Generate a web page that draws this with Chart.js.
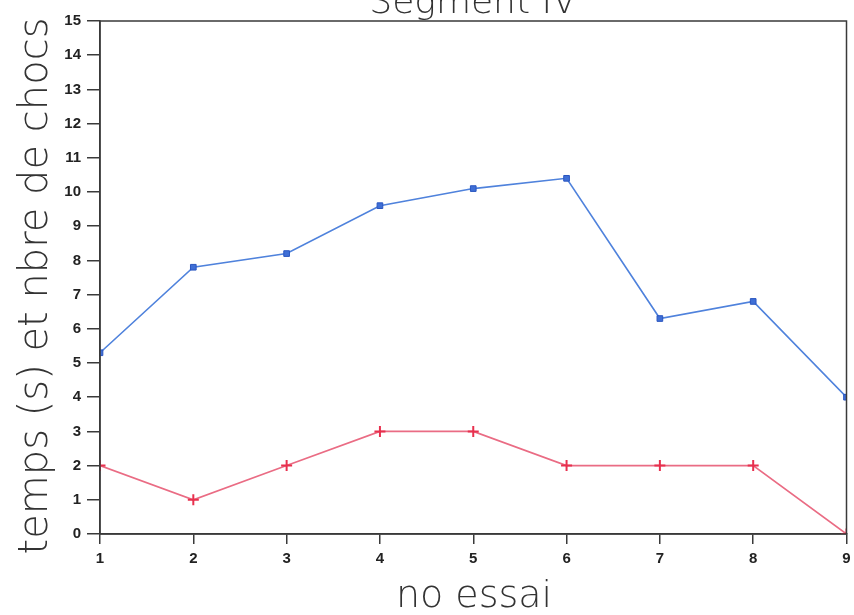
<!DOCTYPE html>
<html>
<head>
<meta charset="utf-8">
<script src="https://cdn.jsdelivr.net/npm/chart.js@4.4.0/dist/chart.umd.min.js"></script>
<style>
  html, body { margin: 0; padding: 0; background: #fff; }
  #wrap { width: 854px; height: 615px; position: relative; }
</style>
</head>
<body>
<div id="wrap"><canvas id="chart" width="854" height="615"></canvas></div>
<script>
// données
const essais = [1, 2, 3, 4, 5, 6, 7, 8, 9];
const temps = [5.3, 7.8, 8.2, 9.6, 10.1, 10.4, 6.3, 6.8, 4.0];
const chocs = [2, 1, 2, 3, 3, 2, 2, 2, 0];
const yTicks = [0, 1, 2, 3, 4, 5, 6, 7, 8, 9, 10, 11, 12, 13, 14, 15];

const titre = "Segment IV";
const titreX = "no essai";
const titreY = "temps (s) et nbre de chocs";

const axisColor = "#3a3a3a";
const thinFont = '"DejaVu Sans", sans-serif';
const tickFont = { family: '"Liberation Sans", sans-serif', size: 15, weight: "bold" };

// cadre + titres
const decor = {
  id: "decor",
  afterDraw(chart) {
    const ctx = chart.ctx;
    const a = chart.chartArea;
    ctx.save();
    ctx.strokeStyle = axisColor;
    ctx.lineWidth = 1.5;
    ctx.strokeRect(a.left, a.top, a.right - a.left, a.bottom - a.top);

    ctx.fillStyle = "#333";
    ctx.font = "200 36px " + thinFont;
    ctx.textAlign = "center";
    ctx.textBaseline = "alphabetic";
    ctx.fillText(titre, 473, 13);

    ctx.font = "200 38px " + thinFont;
    ctx.fillText(titreX, 474, 607);

    ctx.translate(47, 286);
    ctx.rotate(-Math.PI / 2);
    ctx.font = "200 40px " + thinFont;
    ctx.fillText(titreY, 0, 0);
    ctx.restore();
  },
};

new Chart(document.getElementById("chart"), {
  type: "line",
  data: {
    datasets: [
      {
        label: "temps",
        data: essais.map((x, i) => ({ x: x, y: temps[i] })),
        borderColor: "#4f82dc",
        borderWidth: 1.6,
        pointStyle: "rect",
        pointRadius: 4,
        pointBackgroundColor: "#3f6fd6",
        pointBorderColor: "#2a56c0",
        pointBorderWidth: 1,
        tension: 0,
      },
      {
        label: "chocs",
        data: essais.map((x, i) => ({ x: x, y: chocs[i] })),
        borderColor: "#ea6c84",
        borderWidth: 1.6,
        pointStyle: "cross",
        pointRadius: 5.5,
        pointBorderColor: "#e8304e",
        pointBorderWidth: 2,
        tension: 0,
      },
    ],
  },
  options: {
    responsive: false,
    animation: false,
    layout: { padding: { top: 21, left: 0, right: 6, bottom: 0 } },
    plugins: {
      legend: { display: false },
      tooltip: { enabled: false },
    },
    scales: {
      x: {
        type: "linear",
        min: 1,
        max: 9,
        afterFit(scale) {
          scale.height = 81;
          scale.paddingLeft = 0;
          scale.paddingRight = 0;
        },
        afterBuildTicks(scale) {
          scale.ticks = essais.map((v) => ({ value: v }));
        },
        grid: {
          drawOnChartArea: false,
          drawTicks: true,
          tickLength: 10,
          color: axisColor,
          lineWidth: 1.5,
        },
        border: { color: axisColor, width: 1.5 },
        ticks: {
          color: "#222",
          padding: 6,
          maxRotation: 0,
          font: tickFont,
        },
      },
      y: {
        min: 0,
        max: 15,
        afterFit(scale) {
          scale.width = 100;
          scale.paddingTop = 0;
          scale.paddingBottom = 0;
        },
        afterBuildTicks(scale) {
          scale.ticks = yTicks.map((v) => ({ value: v }));
        },
        grid: {
          drawOnChartArea: false,
          drawTicks: true,
          tickLength: 13,
          color: axisColor,
          lineWidth: 1.5,
        },
        border: { color: axisColor, width: 1.5 },
        ticks: {
          color: "#222",
          padding: 6,
          font: tickFont,
        },
      },
    },
  },
  plugins: [decor],
});
</script>
</body>
</html>
